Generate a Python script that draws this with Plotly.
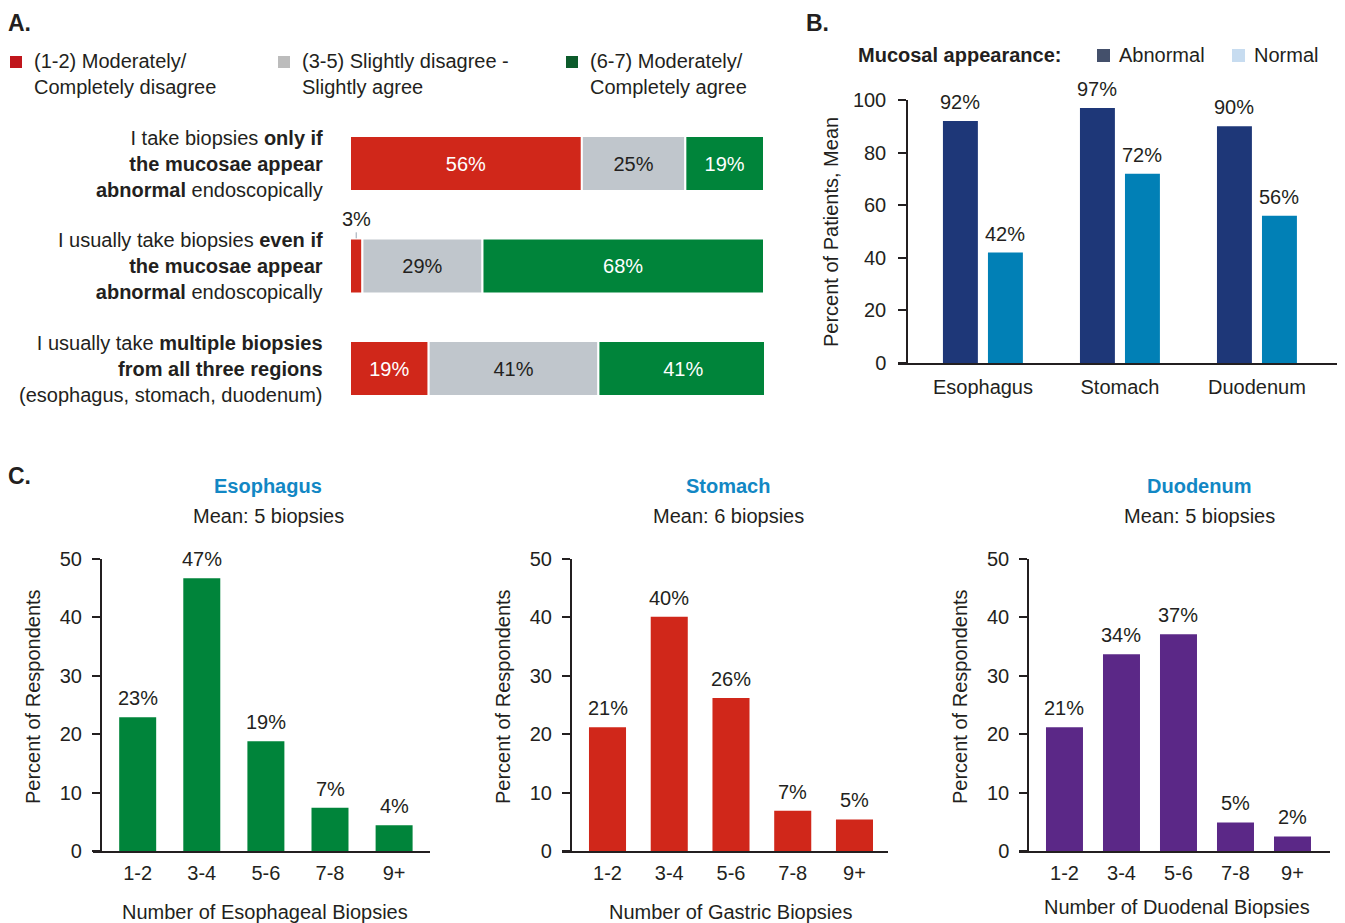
import plotly.graph_objects as go

# The page body adds an 8px offset; coordinates below are reference-pixel based.
OFF = 8
W, H = 1345 - OFF, 923 - OFF
FONT = "Liberation Sans, Arial, sans-serif"
TXT = "#231f20"

def px(x):
    return (x - OFF) / W

def py(y):
    return 1 - (y - OFF) / H

# ---------------- Data ----------------
# Panel A
a_statements = [
    "I take biopsies <b>only if</b><br><b>the mucosae appear</b><br><b>abnormal</b> endoscopically",
    "I usually take biopsies <b>even if</b><br><b>the mucosae appear</b><br><b>abnormal</b> endoscopically",
    "I usually take <b>multiple biopsies</b><br><b>from all three regions</b><br>(esophagus, stomach, duodenum)",
]
a_groups = ["(1-2) Moderately/<br>Completely disagree",
            "(3-5) Slightly disagree -<br>Slightly agree",
            "(6-7) Moderately/<br>Completely agree"]
a_disagree = [56, 3, 19]
a_neutral = [25, 29, 41]
a_agree = [19, 68, 41]

# Panel B
b_regions = ["Esophagus", "Stomach", "Duodenum"]
b_abnormal = [92, 97, 90]
b_normal = [42, 72, 56]

# Panel C
c_bins = ["1-2", "3-4", "5-6", "7-8", "9+"]
c_esophagus = [22.9, 46.7, 18.8, 7.4, 4.4]
c_esophagus_lbl = ["23%", "47%", "19%", "7%", "4%"]
c_stomach = [21.2, 40.1, 26.2, 6.9, 5.4]
c_stomach_lbl = ["21%", "40%", "26%", "7%", "5%"]
c_duodenum = [21.2, 33.7, 37.1, 4.9, 2.5]
c_duodenum_lbl = ["21%", "34%", "37%", "5%", "2%"]
c_means = ["Mean: 5 biopsies", "Mean: 6 biopsies", "Mean: 5 biopsies"]
c_xtitles = ["Number of Esophageal Biopsies", "Number of Gastric Biopsies",
             "Number of Duodenal Biopsies"]

# ---------------- Colors ----------------
RED = "#d0271a"
GRAY = "#c0c6cc"
GREEN = "#00843a"
NAVY = "#1e3778"
LBLUE = "#0180b6"
PURPLE = "#5b2887"
TITLEBLUE = "#1287c4"

fig = go.Figure()
ann = []
shapes = []

def bar_label(x, y, s, xref, yref):
    ann.append(dict(x=x, y=y, xref=xref, yref=yref, text=s, showarrow=False,
                    xanchor="center", yanchor="bottom", yshift=6,
                    font=dict(size=20, color=TXT, family=FONT)))

# ---------------- Panel A ----------------
rows = list(range(len(a_statements)))
series_a = [(a_disagree, RED, "white"), (a_neutral, GRAY, TXT), (a_agree, GREEN, "white")]
cum = [0] * len(rows)
small_labels = []
for vals, col, tcol in series_a:
    texts = []
    for i, v in enumerate(vals):
        if v < 5:
            texts.append("")
            small_labels.append((cum[i] + v / 2, i, f"{v}%"))
        else:
            texts.append(f"{v}%")
    fig.add_trace(go.Bar(
        orientation="h", x=vals, y=rows, base=list(cum), width=0.537,
        marker=dict(color=col, line=dict(color="white", width=2)),
        text=texts, textposition="inside", insidetextanchor="middle",
        textangle=0, constraintext="none",
        textfont=dict(color=tcol, size=20, family=FONT),
        xaxis="x", yaxis="y", showlegend=False, hoverinfo="skip",
    ))
    cum = [c + v for c, v in zip(cum, vals)]

# ---------------- Panel B ----------------
B_W = 0.255
for vals, col, off in [(b_abnormal, NAVY, -0.292), (b_normal, LBLUE, 0.0365)]:
    xs = list(range(len(vals)))
    fig.add_trace(go.Bar(
        x=xs, y=vals, offset=off, width=B_W,
        marker=dict(color=col, line=dict(width=0)),
        xaxis="x2", yaxis="y2", showlegend=False, hoverinfo="skip"))
    for xi, v in zip(xs, vals):
        bar_label(xi + off + B_W / 2, v, f"{v}%", "x2", "y2")

# ---------------- Panel C ----------------
c_sets = [
    (c_esophagus, c_esophagus_lbl, GREEN, 0.577, "x3", "y3"),
    (c_stomach, c_stomach_lbl, RED, 0.60, "x4", "y4"),
    (c_duodenum, c_duodenum_lbl, PURPLE, 0.649, "x5", "y5"),
]
for vals, lbls, col, w, xa, ya in c_sets:
    xs = list(range(len(c_bins)))
    fig.add_trace(go.Bar(
        x=xs, y=vals, width=w,
        marker=dict(color=col, line=dict(width=0)),
        xaxis=xa, yaxis=ya, showlegend=False, hoverinfo="skip"))
    for xi, v, s in zip(xs, vals, lbls):
        bar_label(xi, v, s, xa, ya)

# ---------------- Axes ----------------
axis_common = dict(showgrid=False, zeroline=False, linecolor="#231f20", linewidth=1.5,
                   automargin=False,
                   tickfont=dict(size=20, color=TXT, family=FONT), fixedrange=True)

layout = dict(
    width=W, height=H, margin=dict(l=0, r=0, t=0, b=0, pad=0), autosize=False,
    paper_bgcolor="white", plot_bgcolor="white",
    barmode="overlay", font=dict(family=FONT, color=TXT, size=20),
    xaxis=dict(domain=[px(350), px(764)], range=[0, 100], visible=False, anchor="y",
               automargin=False),
    yaxis=dict(domain=[py(419.75), py(112.25)], range=[2.5, -0.5], visible=False, anchor="x",
               automargin=False),
    xaxis2=dict(domain=[px(898), px(1337)], range=[-0.620, 2.584], anchor="y2",
                showline=True, ticks="", ticklabelstandoff=5,
                tickvals=list(range(3)), ticktext=b_regions, **axis_common),
    yaxis2=dict(domain=[py(363), py(100)], range=[0, 100], anchor="free", position=px(907),
                showline=True, ticks="outside", ticklen=8, tickwidth=1.5, tickcolor="#231f20",
                ticklabelstandoff=8, tickvals=[0, 20, 40, 60, 80, 100], **axis_common),
)
c_axes = [
    ("xaxis3", "yaxis3", "y3", 93, 430, [-0.697, 4.560], 100.7),
    ("xaxis4", "yaxis4", "y4", 562, 888, [-0.737, 4.543], 570.7),
    ("xaxis5", "yaxis5", "y5", 1019, 1330, [-0.798, 4.658], 1028),
]
for xk, yk, yref, x0, x1, rng, ypos in c_axes:
    layout[xk] = dict(domain=[px(x0), px(x1)], range=rng, anchor=yref, showline=True,
                      ticks="", ticklabelstandoff=3,
                      tickvals=list(range(len(c_bins))), ticktext=c_bins, **axis_common)
    layout[yk] = dict(domain=[py(851), py(559)], range=[0, 50], anchor="free", position=px(ypos),
                      showline=True, ticks="outside", ticklen=8, tickwidth=1.5,
                      tickcolor="#231f20", ticklabelstandoff=6,
                      tickvals=[0, 10, 20, 30, 40, 50], **axis_common)
fig.update_layout(**layout)

# ---------------- Annotations ----------------
def text(x, y, s, size=20, xanchor="left", yanchor="middle", color=TXT, angle=0, align="left"):
    ann.append(dict(x=px(x), y=py(y), xref="paper", yref="paper", text=s, showarrow=False,
                    xanchor=xanchor, yanchor=yanchor, align=align, textangle=angle,
                    font=dict(size=size, color=color, family=FONT)))

# panel letters
text(6, 8, "<b>A.</b>", size=23, yanchor="top")
text(804, 8, "<b>B.</b>", size=23, yanchor="top")
text(6, 461, "<b>C.</b>", size=23, yanchor="top")

# Panel A legend
leg_cols = ["#c0161c", "#bcbcbc", "#0c5b2b"]
leg_x = [10, 278, 566]
for lx, lc, lt in zip(leg_x, leg_cols, a_groups):
    shapes.append(dict(type="rect", xref="paper", yref="paper", x0=px(lx), x1=px(lx + 12),
                       y0=py(68), y1=py(56), fillcolor=lc, line=dict(width=0)))
    text(lx + 22, 74, lt)

# Panel A statements
for i, s in enumerate(a_statements):
    ann.append(dict(x=px(325), y=i, xref="paper", yref="y", text=s, showarrow=False,
                    xanchor="right", yanchor="middle", align="right",
                    font=dict(size=20, color=TXT, family=FONT)))

# small value labels above bars with leader line
for xv, yv, s in small_labels:
    ann.append(dict(x=xv, y=yv - 0.27, xref="x", yref="y", text=s, showarrow=True,
                    arrowhead=0, arrowwidth=1, arrowcolor="#9aa5b1", ax=0, ay=-6,
                    yanchor="bottom", font=dict(size=20, color=TXT, family=FONT)))

# Panel B legend
text(856, 55, "<b>Mucosal appearance:</b>")
shapes.append(dict(type="rect", xref="paper", yref="paper", x0=px(1097), x1=px(1110),
                   y0=py(62), y1=py(49), fillcolor="#44506b", line=dict(width=0)))
text(1117, 55, "Abnormal")
shapes.append(dict(type="rect", xref="paper", yref="paper", x0=px(1232), x1=px(1245),
                   y0=py(62), y1=py(49), fillcolor="#c7dcf0", line=dict(width=0)))
text(1252, 55, "Normal")
text(831, 232, "Percent of Patients, Mean", xanchor="center", angle=-90)

# Panel C titles
c_names = ["Esophagus", "Stomach", "Duodenum"]
c_cx = [268, 728, 1199]
c_ytx = [33, 503, 960]
c_xtx = [(265, 912), (730, 912), (1177, 907)]
for nm, mean, cx, ytx, (xtx, xty), xt in zip(c_names, c_means, c_cx, c_ytx, c_xtx, c_xtitles):
    text(cx, 486, f"<b>{nm}</b>", xanchor="center", color=TITLEBLUE)
    text(cx, 516, mean, xanchor="center")
    text(ytx, 697, "Percent of Respondents", xanchor="center", angle=-90)
    text(xtx, xty, xt, xanchor="center")

fig.update_layout(annotations=ann, shapes=shapes)
fig.write_html("out.html")
